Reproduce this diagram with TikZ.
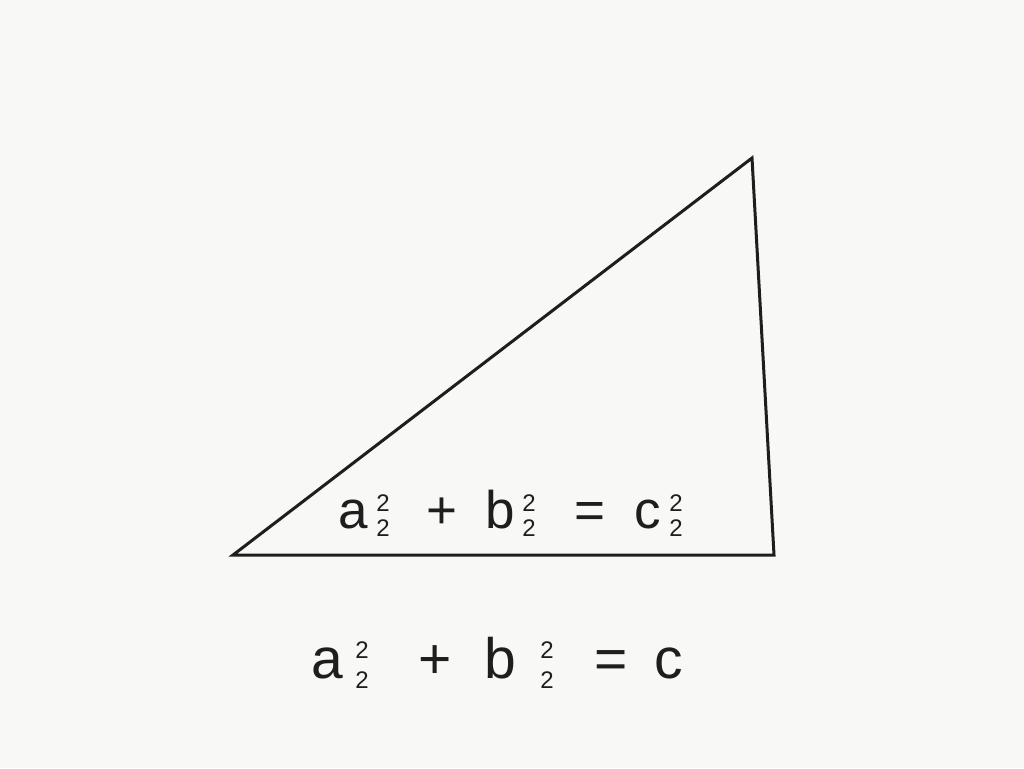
\documentclass[tikz,border=0pt]{standalone}
\usepackage{fontspec}
\setmainfont{Liberation Sans}
\definecolor{bg}{HTML}{F8F8F6}
\definecolor{ink}{HTML}{1E1E1E}
\begin{document}
\begin{tikzpicture}[x=1pt,y=-1pt,
  big/.style={inner sep=0pt,anchor=base,text=ink,font=\fontsize{53}{60}\selectfont},
  bigb/.style={inner sep=0pt,anchor=base,text=ink,font=\fontsize{57}{64}\selectfont},
  scr/.style={inner sep=0pt,anchor=base,text=ink,font=\fontsize{24}{28}\selectfont},
  edge/.style={draw=ink,line width=3pt,line join=miter}]
\fill[bg] (0,0) rectangle (1024,768);
\useasboundingbox (0,0) rectangle (1024,768);
% triangle
\coordinate (A) at (233,555);
\coordinate (B) at (752,158);
\coordinate (C) at (774,555);
\draw[edge] (A) -- (B) -- (C) -- cycle;
% equation inside triangle
\node[big] (a1) at (353,528) {a};
\node[scr] (a1p) at (383,511) {2};
\node[scr] (a1b) at (383,536) {2};
\node[big] (p1) at (442,528) {+};
\node[big] (b1) at (500,528) {b};
\node[scr] (b1p) at (529,511) {2};
\node[scr] (b1b) at (529,536) {2};
\node[big] (e1) at (590,528) {=};
\node[big] (c1) at (648,528) {c};
\node[scr] (c1p) at (676,511) {2};
\node[scr] (c1b) at (676,536) {2};
% equation below
\node[bigb] (a2) at (327,678) {a};
\node[scr] (a2p) at (362,658) {2};
\node[scr] (a2b) at (362,688) {2};
\node[bigb] (p2) at (435,678) {+};
\node[bigb] (b2) at (500,678) {b};
\node[scr] (b2p) at (547,658) {2};
\node[scr] (b2b) at (547,688) {2};
\node[bigb] (e2) at (611,678) {=};
\node[bigb] (c2) at (669,678) {c};
\end{tikzpicture}
\end{document}
